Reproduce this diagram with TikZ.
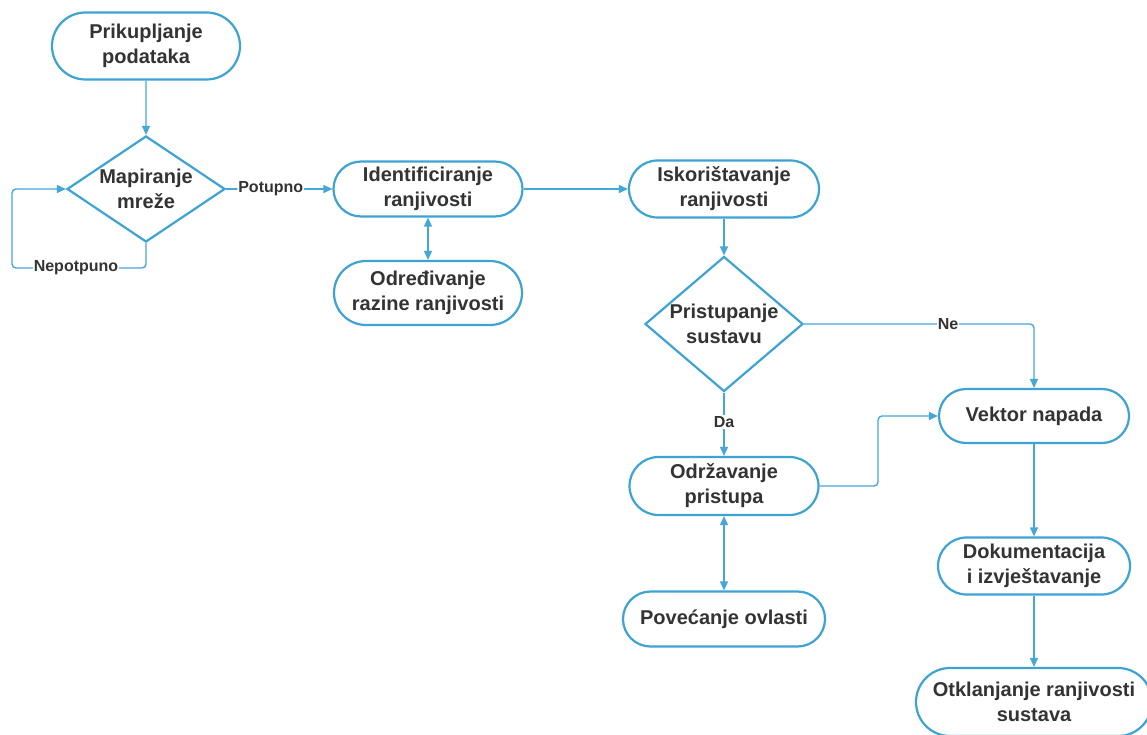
\documentclass[tikz,border=0pt]{standalone}
\usepackage{fontspec}
\setmainfont{Liberation Sans}
\usetikzlibrary{shapes.misc,shapes.geometric,arrows.meta}
\definecolor{nodeblue}{HTML}{3DA3D5}
\definecolor{lineblue}{HTML}{45A7D8}
\definecolor{txt}{HTML}{333333}
\tikzset{
  stadium/.style={rounded rectangle, draw=nodeblue, line width=2.2pt, fill=white, text=txt,
    font=\bfseries\fontsize{20}{25}\selectfont, align=center, inner sep=0pt},
  decision/.style={diamond, draw=nodeblue, line width=2.2pt, fill=white, text=txt,
    font=\bfseries\fontsize{20}{25}\selectfont, align=center, inner sep=0pt},
  conn/.style={draw=lineblue, line width=1.4pt, rounded corners=4pt},
  arr/.style={conn, -{Triangle[length=9pt,width=8pt]}},
  darr/.style={conn, {Triangle[length=9pt,width=8pt]}-{Triangle[length=9pt,width=8pt]}},
  lbl/.style={fill=white, text=txt, font=\bfseries\fontsize{16}{19}\selectfont, inner sep=1pt}
}
\begin{document}
\begin{tikzpicture}[x=1pt,y=-1pt]
\useasboundingbox (0,0) rectangle (1147,735);
\fill[white] (0,0) rectangle (1147,735);

\node[stadium, minimum width=188pt, minimum height=67pt] (prik) at (146,46) {Prikupljanje\\podataka};
\node[decision, aspect=1.55, minimum width=158pt, minimum height=106pt] (map) at (146,189) {Mapiranje\\mreže};
\node[stadium, minimum width=189pt, minimum height=55pt] (ident) at (428,189) {Identificiranje\\ranjivosti};
\node[stadium, minimum width=188pt, minimum height=64pt] (odr) at (428,293) {Određivanje\\razine ranjivosti};
\node[stadium, minimum width=190pt, minimum height=57pt] (isk) at (724,189) {Iskorištavanje\\ranjivosti};
\node[decision, aspect=1.2, minimum width=158pt, minimum height=135pt] (prist) at (724,324) {Pristupanje\\sustavu};
\node[stadium, minimum width=189pt, minimum height=58pt] (odz) at (724,486) {Održavanje\\pristupa};
\node[stadium, minimum width=202pt, minimum height=55pt] (pov) at (724,619) {Povećanje ovlasti};
\node[stadium, minimum width=190pt, minimum height=54pt] (vek) at (1034,416) {Vektor napada};
\node[stadium, minimum width=192pt, minimum height=57pt] (dok) at (1034,566) {Dokumentacija\\i izvještavanje};
\node[stadium, minimum width=236pt, minimum height=68pt] (otk) at (1034,702) {Otklanjanje ranjivosti\\sustava};

\coordinate (loopc) at (12,268);
\coordinate (bend) at (878,0);

\draw[arr] (prik) -- (map);
\draw[arr] (map.south) -- (map.south |- loopc) -- (loopc) -- (loopc |- map.west) -- (map.west);
\node[lbl] (nep) at (76,268) {Nepotpuno};
\draw[arr] (map.east) -- node[lbl, pos=0.42] (pot) {Potupno} (ident.west);
\draw[darr] (ident.south) -- (odr.north);
\draw[arr] (ident.east) -- (isk.west);
\draw[arr] (isk.south) -- (prist.north);
\draw[arr] (prist.east) -- (vek.north |- prist.east) -- (vek.north);
\node[lbl] (ne) at (948,324) {Ne};
\draw[arr] (prist.south) -- (odz.north);
\node[lbl] (da) at (724,422) {Da};
\draw[arr] (odz.east) -- (bend |- odz.east) -- (bend |- vek.west) -- (vek.west);
\draw[darr] (odz.south) -- (pov.north);
\draw[arr] (vek.south) -- (dok.north);
\draw[arr] (dok.south) -- (otk.north);
\end{tikzpicture}
\end{document}
